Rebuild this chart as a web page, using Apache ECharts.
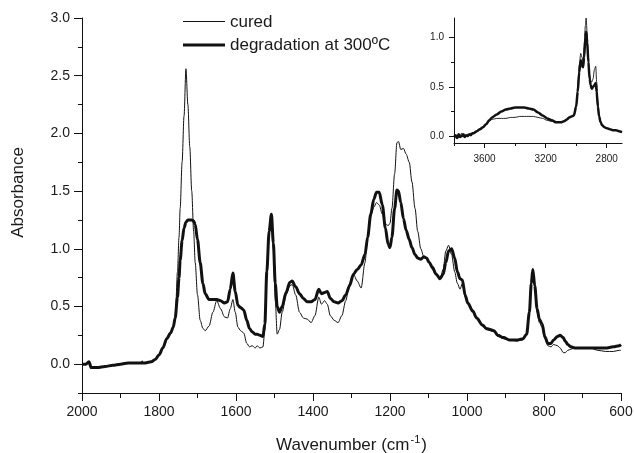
<!DOCTYPE html>
<html>
<head>
<meta charset="utf-8">
<script src="https://cdn.jsdelivr.net/npm/echarts@6/dist/echarts.min.js"></script>
<style>
html,body{margin:0;padding:0;background:#fff;}
#chart{width:634px;height:453px;}
</style>
</head>
<body>
<div id="chart"></div>
<script>
// ---- Main spectrum (wavenumber, cm-1) ----
const wnMain = [2000,1990,1982,1976,1960,1940,1920,1900,1880,1860,1848,1844,1840,1820,1810,1800,1790,1780,1770,1763,
1758,1752,1748,1745,1740,1735,1730,1725,1720,1715,1710,1706,1700,1693,1686,1680,1670,1660,1650,1640,
1630,1622,1615,1608,1602,1595,1588,1580,1572,1565,1558,1550,1545,1538,1530,1525,1520,1514,1508,1503,
1498,1493,1487,1480,1470,1460,1454,1445,1435,1425,1415,1405,1395,1385,1378,1370,1363,1355,1345,1335,
1325,1315,1305,1295,1285,1275,1265,1258,1250,1242,1235,1228,1220,1212,1205,1200,1195,1188,1182,1178,
1172,1165,1158,1150,1143,1135,1128,1120,1112,1105,1098,1090,1080,1070,1062,1055,1048,1040,1032,1025,
1018,1012,1005,998,985,975,960,950,940,930,920,905,890,870,855,845,838,833,829,824,
818,812,805,798,790,782,775,765,758,750,745,738,730,720,700,680,660,640,620,605,600];
const curedMain = [0.00,0.00,0.02,-0.03,-0.03,-0.02,-0.01,0.00,0.01,0.01,0.01,0.03,0.01,0.02,0.04,0.08,0.14,0.22,0.27,0.32,
0.38,0.80,1.10,1.35,1.75,2.15,2.56,2.25,1.88,1.50,1.15,0.88,0.60,0.38,0.31,0.29,0.33,0.45,0.55,0.48,
0.41,0.40,0.48,0.56,0.45,0.32,0.29,0.27,0.18,0.15,0.16,0.14,0.16,0.14,0.15,0.30,0.75,1.15,1.31,1.00,
0.55,0.26,0.30,0.45,0.60,0.68,0.69,0.60,0.45,0.40,0.39,0.36,0.42,0.58,0.52,0.55,0.52,0.42,0.38,0.36,
0.42,0.55,0.70,0.78,0.72,0.66,0.88,1.10,1.28,1.36,1.40,1.38,1.30,1.22,1.20,1.22,1.35,1.65,1.92,1.93,
1.86,1.87,1.82,1.75,1.58,1.35,1.15,1.00,0.93,0.92,0.88,0.82,0.77,0.74,0.82,0.98,1.03,0.95,0.80,0.70,
0.65,0.70,0.58,0.52,0.46,0.40,0.33,0.30,0.29,0.28,0.24,0.22,0.21,0.20,0.21,0.26,0.45,0.70,0.82,0.68,
0.45,0.36,0.32,0.22,0.16,0.15,0.17,0.16,0.14,0.10,0.10,0.12,0.13,0.14,0.14,0.14,0.12,0.11,0.11,0.12,0.12];
const degradedMain = [0.00,0.00,0.02,-0.03,-0.03,-0.02,-0.01,0.00,0.01,0.01,0.01,0.01,0.01,0.02,0.04,0.08,0.14,0.22,0.27,0.32,
0.40,0.58,0.75,0.90,1.07,1.18,1.23,1.25,1.25,1.25,1.24,1.21,1.08,0.88,0.70,0.61,0.56,0.56,0.56,0.55,
0.53,0.54,0.65,0.79,0.63,0.51,0.49,0.47,0.38,0.31,0.28,0.26,0.26,0.25,0.24,0.35,0.80,1.15,1.30,1.05,
0.70,0.50,0.45,0.50,0.62,0.71,0.72,0.67,0.61,0.57,0.54,0.54,0.56,0.65,0.61,0.62,0.63,0.57,0.54,0.53,
0.55,0.60,0.68,0.78,0.82,0.86,0.95,1.10,1.30,1.43,1.49,1.49,1.38,1.18,1.04,1.01,1.10,1.35,1.51,1.50,
1.40,1.26,1.16,1.08,1.01,0.95,0.92,0.91,0.93,0.92,0.88,0.84,0.78,0.74,0.78,0.88,0.98,1.00,0.92,0.80,
0.74,0.73,0.60,0.53,0.46,0.40,0.34,0.31,0.30,0.29,0.25,0.23,0.21,0.21,0.22,0.26,0.45,0.70,0.82,0.68,
0.48,0.39,0.35,0.24,0.18,0.18,0.21,0.24,0.25,0.23,0.20,0.17,0.15,0.14,0.14,0.14,0.14,0.14,0.15,0.16,0.17];

// ---- Inset spectrum (3800-2700 cm-1) ----
const wnInset = [3800,3790,3780,3770,3760,3750,3740,3730,3720,3710,3700,3690,3680,3670,3650,3630,3610,3590,3570,3550,
3520,3490,3460,3430,3400,3370,3340,3310,3280,3250,3220,3190,3160,3130,3100,3080,3060,3045,3030,3015,
3000,2990,2980,2970,2962,2955,2948,2940,2935,2928,2920,2912,2905,2898,2890,2880,2872,2866,2858,2850,
2840,2830,2815,2800,2780,2760,2740,2720,2700];
const curedInset = [0.00,-0.01,0.01,-0.02,0.01,0.03,-0.01,0.02,0.00,0.02,0.01,0.03,0.02,0.04,0.05,0.07,0.09,0.12,0.15,0.17,
0.18,0.18,0.18,0.19,0.19,0.20,0.20,0.20,0.20,0.19,0.18,0.16,0.15,0.14,0.14,0.15,0.17,0.19,0.20,0.22,
0.32,0.50,0.72,0.84,0.80,0.76,0.90,1.12,1.20,1.05,0.80,0.62,0.56,0.55,0.58,0.68,0.71,0.55,0.35,0.22,
0.14,0.11,0.09,0.08,0.07,0.06,0.06,0.05,0.04];
const degradedInset = [-0.01,0.01,-0.02,0.02,-0.01,0.00,0.02,-0.01,0.01,0.00,0.02,0.01,0.03,0.03,0.05,0.07,0.09,0.12,0.16,0.19,
0.22,0.25,0.27,0.28,0.29,0.29,0.29,0.28,0.27,0.24,0.21,0.18,0.16,0.14,0.14,0.15,0.17,0.19,0.20,0.21,
0.30,0.45,0.65,0.77,0.72,0.70,0.80,1.00,1.06,0.95,0.75,0.58,0.52,0.48,0.50,0.52,0.54,0.45,0.30,0.20,
0.14,0.11,0.09,0.08,0.07,0.06,0.06,0.05,0.04];

// ---- Tick values ----
const mainYLabels = [0, 0.5, 1.0, 1.5, 2.0, 2.5, 3.0];
const mainYMinor = [-0.25, 0.25, 0.75, 1.25, 1.75, 2.25, 2.75];
const insetXLabels = [2800, 3200, 3600];
const insetXMinor = [3000, 3400, 3800];
const insetYLabels = [0, 0.5, 1.0];
const insetYMinor = [0.25, 0.75];

const seriesNames = ['cured', 'degradation at 300ºC'];

const zip = (xs, ys) => xs.map((x, i) => [x, ys[i]]);
const INK = '#111';
const FONT = 'Liberation Sans, Arial, Helvetica, sans-serif';

// legend line-sample icons (42 x 12 box, horizontal bar from a to b in the middle)
function barIcon(a, b) {
  return 'path://M0,0L42,0L42,0.001Z M0,' + a + 'L42,' + a + 'L42,' + b + 'L0,' + b + 'Z M0,12L42,12L42,12.001Z';
}

const chart = echarts.init(document.getElementById('chart'), null, {renderer: 'canvas'});

const intFmt = v => String(Math.round(v));
const oneDec = v => Number(v).toFixed(1);

const baseAxis = {
  splitLine: {show: false},
  axisLine: {show: true, onZero: false, lineStyle: {color: INK, width: 1}},
  axisTick: {show: true, lineStyle: {color: INK, width: 1}},
  axisLabel: {color: '#1a1a1a', fontFamily: FONT}
};

function lineSeries(name, xi, yi, data, width, z) {
  return {
    name: name, type: 'line', xAxisIndex: xi, yAxisIndex: yi, data: data,
    symbol: 'none', smooth: 0.3, smoothMonotone: 'x', clip: true,
    lineStyle: {color: INK, width: width}, itemStyle: {color: INK},
    emphasis: {disabled: true}, z: z, animation: false
  };
}

const option = {
  animation: false,
  backgroundColor: '#fff',
  textStyle: {fontFamily: FONT},
  grid: [
    {left: 82, top: 18, width: 539, height: 375, containLabel: false, outerBoundsMode: 'none'},
    {left: 454, top: 18, width: 168, height: 125, containLabel: false, outerBoundsMode: 'none'}
  ],
  legend: {
    data: [
      {name: seriesNames[0], icon: barIcon(5, 6)},
      {name: seriesNames[1], icon: barIcon(4.5, 7.5)}
    ],
    orient: 'vertical',
    left: 178, top: 7,
    itemWidth: 42, itemHeight: 12, itemGap: 3,
    selectedMode: false,
    itemStyle: {color: INK, borderWidth: 0},
    textStyle: {fontSize: 17, color: '#1a1a1a', fontFamily: FONT, lineHeight: 20}
  },
  xAxis: [
    Object.assign({}, baseAxis, {
      type: 'value', gridIndex: 0, min: 600, max: 2000, interval: 200, inverse: true,
      axisTick: {show: true, length: 8, lineStyle: {color: INK}},
      minorTick: {show: true, splitNumber: 2, length: 5, lineStyle: {color: INK}},
      axisLabel: {fontSize: 14, margin: 12, color: '#1a1a1a', fontFamily: FONT, formatter: intFmt},
      name: '{a|Wavenumber (cm}{s|-1}{a|)}',
      nameLocation: 'middle', nameGap: 41,
      nameTextStyle: {
        rich: {
          a: {fontSize: 17, color: '#1a1a1a', fontFamily: FONT, lineHeight: 20, verticalAlign: 'bottom'},
          s: {fontSize: 11, color: '#1a1a1a', fontFamily: FONT, lineHeight: 20, verticalAlign: 'top', padding: [0, 1, 0, 1]}
        }
      }
    }),
    Object.assign({}, baseAxis, {
      type: 'value', gridIndex: 1, min: 2700, max: 3800, inverse: true,
      axisTick: {show: true, length: 5, customValues: insetXLabels, lineStyle: {color: INK}},
      axisLabel: {fontSize: 10, margin: 11, customValues: insetXLabels, color: '#1a1a1a', fontFamily: FONT, formatter: intFmt}
    }),
    {
      type: 'value', gridIndex: 1, min: 2700, max: 3800, inverse: true, position: 'bottom',
      splitLine: {show: false}, axisLine: {show: false, onZero: false},
      axisLabel: {show: false},
      axisTick: {show: true, length: 3, customValues: insetXMinor, lineStyle: {color: INK}}
    }
  ],
  yAxis: [
    Object.assign({}, baseAxis, {
      type: 'value', gridIndex: 0, min: -0.25, max: 3.0, position: 'left',
      axisTick: {show: true, length: 8, customValues: mainYLabels, lineStyle: {color: INK}},
      axisLabel: {fontSize: 14, margin: 12, customValues: mainYLabels, color: '#1a1a1a', fontFamily: FONT,
        formatter: oneDec},
      name: 'Absorbance', nameLocation: 'middle', nameGap: 55,
      nameTextStyle: {fontSize: 17, color: '#1a1a1a', fontFamily: FONT, padding: [0, 0, 0, 26]}
    }),
    {
      type: 'value', gridIndex: 0, min: -0.25, max: 3.0, position: 'left',
      splitLine: {show: false}, axisLine: {show: false, onZero: false},
      axisLabel: {show: false},
      axisTick: {show: true, length: 4, customValues: mainYMinor, lineStyle: {color: INK}}
    },
    Object.assign({}, baseAxis, {
      type: 'value', gridIndex: 1, min: -0.07, max: 1.2, position: 'left',
      axisTick: {show: true, length: 5, customValues: insetYLabels, lineStyle: {color: INK}},
      axisLabel: {fontSize: 10, margin: 10, customValues: insetYLabels, color: '#1a1a1a', fontFamily: FONT,
        formatter: oneDec}
    }),
    {
      type: 'value', gridIndex: 1, min: -0.07, max: 1.2, position: 'left',
      splitLine: {show: false}, axisLine: {show: false, onZero: false},
      axisLabel: {show: false},
      axisTick: {show: true, length: 3, customValues: insetYMinor, lineStyle: {color: INK}}
    }
  ],
  series: [
    lineSeries(seriesNames[0], 0, 0, zip(wnMain, curedMain), 1, 2),
    lineSeries(seriesNames[1], 0, 0, zip(wnMain, degradedMain), 3, 3),
    lineSeries(seriesNames[0], 1, 2, zip(wnInset, curedInset), 0.9, 2),
    lineSeries(seriesNames[1], 1, 2, zip(wnInset, degradedInset), 2.5, 3)
  ]
};
chart.setOption(option);
</script>
</body>
</html>
